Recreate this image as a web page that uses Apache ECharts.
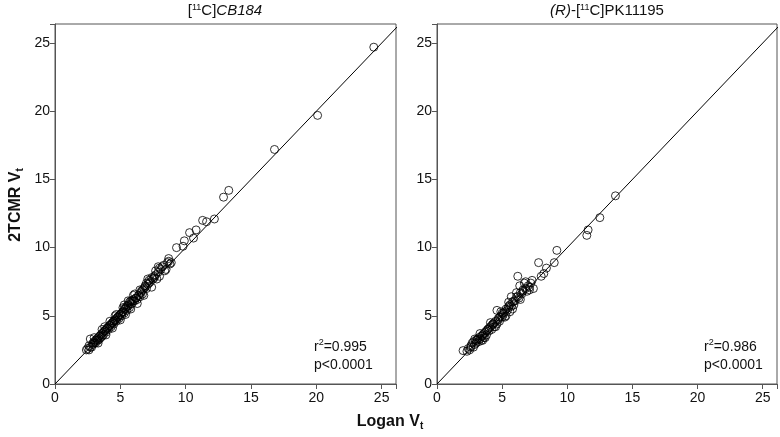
<!DOCTYPE html>
<html>
<head>
<meta charset="utf-8">
<script src="https://cdn.jsdelivr.net/npm/echarts@6/dist/echarts.min.js"></script>
<style>
html,body{margin:0;padding:0;background:#fff;}
#c{width:780px;height:437px;}
</style>
</head>
<body>
<div id="c"></div>
<script>
// ---- Data ----
const xTicks = [0, 5, 10, 15, 20, 25];
const yTicks = [0, 5, 10, 15, 20, 25];
const identityLine = [[0, 0], [30, 30]];

// [11C]CB184 : Logan Vt (x), 2TCMR Vt (y)
const cb184Logan = [
  2.4,2.5,2.6,2.7,2.6,2.8,2.7,2.9,3.0,3.1,3.1,3.2,3.3,3.3,3.4,3.5,3.5,3.6,3.7,3.7,
  3.8,3.9,3.9,4.0,4.1,4.1,4.2,4.3,4.3,4.4,4.5,4.5,4.6,4.7,4.7,4.8,4.9,4.9,5.0,5.1,
  5.1,5.2,5.3,5.3,5.4,5.5,5.5,5.6,5.7,5.7,5.8,5.9,6.0,6.1,6.2,6.3,6.4,6.5,6.6,6.7,
  6.8,6.9,7.0,7.0,7.1,7.2,7.3,7.4,7.5,7.6,7.8,7.9,8.0,8.2,8.4,8.6,8.7,8.8,8.9,9.3,
  9.8,9.9,10.3,10.6,10.8,11.3,11.6,12.2,12.9,13.3,16.8,20.1,24.4,
  2.9,3.0,3.4,3.6,3.8,4.0,4.2,4.4,4.6,4.8,5.0,5.2,5.4,5.6,5.8,6.0,6.2,6.4,6.6,6.9,
  7.2,7.6,8.1,3.2,4.5,5.9,6.7,7.7,
  3.0,3.3,3.6,3.9,4.2,4.4,4.7,5.0,5.2,5.4,5.6,5.8,6.0,6.3,6.5,6.8,7.1,7.4,7.7,8.0,
  8.3,8.5,6.1,5.3,4.6,3.8,7.9,8.7
];
const cb184TCMR = [
  2.5,2.6,2.5,2.7,2.8,2.7,3.3,2.9,3.0,3.0,3.2,3.3,3.2,3.4,3.5,3.4,3.6,3.7,3.6,3.8,
  3.9,3.8,4.0,4.1,4.0,4.2,4.3,4.2,4.4,4.5,4.4,4.6,4.7,4.6,4.8,4.9,4.8,5.0,5.1,5.0,
  5.2,5.3,5.2,5.5,5.6,5.4,5.7,5.8,5.6,6.0,6.1,5.9,6.2,6.1,6.3,6.2,6.5,6.4,6.7,6.6,
  7.0,7.2,7.0,7.4,7.3,7.6,7.5,7.8,7.7,7.9,7.7,8.2,8.5,8.6,8.3,8.9,9.2,8.8,8.9,10.0,
  10.1,10.5,11.1,10.7,11.3,12.0,11.9,12.1,13.7,14.2,17.2,19.7,24.7,
  3.0,3.1,3.3,3.5,3.9,4.1,4.3,4.5,4.7,4.9,5.1,5.3,5.5,5.7,5.9,6.1,6.3,6.5,6.8,7.1,
  7.4,7.8,8.4,3.2,4.6,6.1,6.9,8.0,
  3.4,3.0,4.0,3.6,4.6,4.1,5.1,4.7,5.6,5.1,6.1,5.5,6.5,5.9,6.9,6.5,7.7,7.1,8.3,7.9,
  8.7,8.4,6.6,5.8,5.0,4.2,8.6,9.0
];

// (R)-[11C]PK11195 : Logan Vt (x), 2TCMR Vt (y)
const pkLogan = [
  2.0,2.3,2.4,2.5,2.6,2.7,2.8,2.8,2.9,3.0,3.0,3.1,3.2,3.2,3.3,3.4,3.4,3.5,3.6,3.6,
  3.7,3.8,3.8,3.9,4.0,4.0,4.1,4.2,4.2,4.3,4.4,4.4,4.5,4.6,4.6,4.7,4.8,4.8,4.9,5.0,
  5.0,5.1,5.2,5.3,5.3,5.4,5.5,5.6,5.6,5.7,5.7,5.8,5.9,6.0,6.1,6.2,6.3,6.35,6.4,6.5,
  6.6,6.7,6.8,6.9,7.0,7.1,7.3,7.4,7.8,8.0,8.2,8.4,9.0,9.2,11.5,11.6,12.5,13.7,
  2.6,3.1,3.5,3.9,4.3,4.7,5.1,5.5,5.9,6.2,6.6,7.2,
  3.3,3.7,4.1,4.5,4.9,5.2,5.5,5.8,6.1,6.4,6.8,7.1,2.9,3.5
];
const pkTCMR = [
  2.45,2.4,2.6,2.5,2.8,3.0,2.7,3.1,2.9,3.2,3.0,3.3,3.1,3.4,3.3,3.5,3.2,3.6,3.4,3.7,
  3.8,3.6,3.9,4.0,3.9,4.1,4.2,4.0,4.3,4.4,4.2,4.5,4.6,4.4,5.4,4.7,4.9,4.6,5.0,4.9,
  5.2,5.1,5.3,5.0,5.5,5.4,5.6,5.3,5.8,6.4,5.7,6.0,5.8,6.1,6.4,7.9,6.3,7.2,6.7,6.6,
  6.9,7.4,7.0,6.8,7.2,7.1,7.6,7.0,8.9,7.9,8.1,8.5,8.9,9.8,10.9,11.3,12.2,13.8,
  2.7,3.2,3.5,4.0,4.4,4.8,5.2,5.7,6.1,6.4,6.8,7.4,
  3.7,3.4,4.5,4.2,5.3,4.9,6.0,5.5,6.7,6.2,7.5,6.9,3.3,3.2
];

const annoLeft = ['0.995', '0.0001'];
const annoRight = ['0.986', '0.0001'];

// ---- Chart ----
const FONT = '"Liberation Sans", Arial, Helvetica, sans-serif';
const AX = '#555';
function pairs(xs, ys) { return xs.map((x, i) => [x, ys[i]]); }

function xAxisCfg(idx) {
  return {
    gridIndex: idx, type: 'value', min: 0, max: 26.1, interval: 5,
    axisLine: { show: true, onZero: false, lineStyle: { color: AX, width: 1 } },
    axisTick: { show: true, length: 5, lineStyle: { color: AX } },
    axisLabel: { color: '#111', fontSize: 14, fontFamily: FONT, margin: 7,
      formatter: v => (xTicks.indexOf(v) >= 0 ? String(v) : '') },
    splitLine: { show: false }
  };
}
function yAxisCfg(idx) {
  return {
    gridIndex: idx, type: 'value', min: 0, max: 26.4, interval: 5,
    axisLine: { show: true, onZero: false, lineStyle: { color: AX, width: 1 } },
    axisTick: { show: true, length: 5, lineStyle: { color: AX } },
    axisLabel: { color: '#111', fontSize: 14, fontFamily: FONT, margin: 5,
      formatter: v => (yTicks.indexOf(v) >= 0 ? String(v) : '') },
    splitLine: { show: false }
  };
}
function scatterCfg(idx, data) {
  return {
    type: 'scatter', xAxisIndex: idx, yAxisIndex: idx, data: data,
    symbol: 'circle', symbolSize: 8, z: 3, silent: true,
    itemStyle: { color: 'rgba(255,255,255,0)', borderColor: '#000', borderWidth: 1 }
  };
}
function lineCfg(idx) {
  return {
    type: 'line', xAxisIndex: idx, yAxisIndex: idx, data: identityLine,
    symbol: 'none', clip: true, z: 2, silent: true,
    lineStyle: { color: '#000', width: 1 }
  };
}

const sup = { fontSize: 9, verticalAlign: 'top', padding: [0, 0, 6, 0], fontFamily: FONT, fill: '#111' };
const chart = echarts.init(document.getElementById('c'), null, { renderer: 'canvas' });
chart.setOption({
  animation: false,
  backgroundColor: '#fff',
  grid: [
    { left: 55, top: 24, width: 341, height: 360, show: true, borderColor: AX, borderWidth: 1, backgroundColor: 'transparent' },
    { left: 437, top: 24, width: 341, height: 360, show: true, borderColor: AX, borderWidth: 1, backgroundColor: 'transparent' }
  ],
  xAxis: [xAxisCfg(0), xAxisCfg(1)],
  yAxis: [yAxisCfg(0), yAxisCfg(1)],
  series: [
    lineCfg(0), scatterCfg(0, pairs(cb184Logan, cb184TCMR)),
    lineCfg(1), scatterCfg(1, pairs(pkLogan, pkTCMR))
  ],
  graphic: [
    { type: 'text', x: 225, y: 3, style: {
        text: '{n|[}{s|11}{n|C]}{i|CB184}', align: 'center', fill: '#111',
        rich: { n: { fontSize: 15, fontFamily: FONT }, i: { fontSize: 15, fontStyle: 'italic', fontFamily: FONT }, s: sup } } },
    { type: 'text', x: 607, y: 3, style: {
        text: '{i|(R)}{n|-[}{s|11}{n|C]PK11195}', align: 'center', fill: '#111',
        rich: { n: { fontSize: 15, fontFamily: FONT }, i: { fontSize: 15, fontStyle: 'italic', fontFamily: FONT }, s: sup } } },
    { type: 'text', x: 390, y: 413, style: {
        text: '{b|Logan V}{t|t}', align: 'center', fill: '#111',
        rich: { b: { fontSize: 16, fontWeight: 'bold', fontFamily: FONT }, t: { fontSize: 10, fontWeight: 'bold', fontFamily: FONT, verticalAlign: 'bottom', padding: [8, 0, 0, 0] } } } },
    { type: 'text', x: 7, y: 205, rotation: Math.PI / 2, style: {
        text: '{b|2TCMR V}{t|t}', align: 'center', verticalAlign: 'top', fill: '#111',
        rich: { b: { fontSize: 16, fontWeight: 'bold', fontFamily: FONT }, t: { fontSize: 10, fontWeight: 'bold', fontFamily: FONT, verticalAlign: 'bottom', padding: [8, 0, 0, 0] } } } },
    { type: 'text', x: 314, y: 338, style: {
        text: '{n|r}{s|2}{n|=' + annoLeft[0] + '}\n{n|p<' + annoLeft[1] + '}', fill: '#111',
        rich: { n: { fontSize: 14, fontFamily: FONT, lineHeight: 18 }, s: { fontSize: 9, verticalAlign: 'top', padding: [0, 0, 6, 0], fontFamily: FONT, lineHeight: 18 } } } },
    { type: 'text', x: 704, y: 338, style: {
        text: '{n|r}{s|2}{n|=' + annoRight[0] + '}\n{n|p<' + annoRight[1] + '}', fill: '#111',
        rich: { n: { fontSize: 14, fontFamily: FONT, lineHeight: 18 }, s: { fontSize: 9, verticalAlign: 'top', padding: [0, 0, 6, 0], fontFamily: FONT, lineHeight: 18 } } } }
  ]
});
</script>
</body>
</html>
